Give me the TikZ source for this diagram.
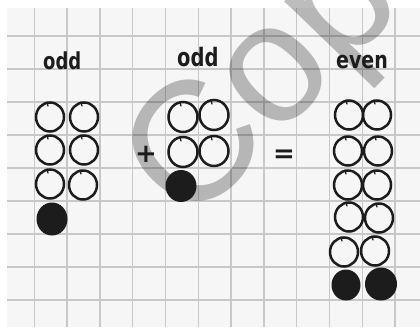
\documentclass[tikz,border=0pt]{standalone}
\usepackage{fontspec}
\setmainfont{DejaVu Sans}
\newfontfamily\wmfont{Liberation Sans}
\definecolor{gridc}{RGB}{200,200,200}
\definecolor{inkc}{RGB}{28,28,28}
\definecolor{paperc}{RGB}{246,246,246}
\begin{document}
\begin{tikzpicture}[x=1pt,y=-1pt,
  gridline/.style={draw=gridc, line width=1.3pt},
  ring/.style={draw=inkc, line width=2.5pt},
  dot/.style={fill=inkc},
  pentick/.style={draw=inkc, line width=1.3pt, line cap=round},
  hand/.style={text=inkc, inner sep=0pt},
  watermark/.style={text=black, text opacity=0.26, inner sep=0pt, font=\wmfont\fontsize{170}{170}\selectfont}
]
\useasboundingbox (0,0) rectangle (420,327);
\clip (0,0) rectangle (420,327);
\fill[white] (0,0) rectangle (420,327);
\fill[paperc] (7,8) rectangle (420,327);
% grid
\foreach \i in {0,...,11} \draw[gridline] ({34.3+32.8*\i},8) -- ({34.3+32.8*\i},327);
\foreach \i in {0,...,8} \draw[gridline] (7,{36+33*\i}) -- (420,{36+33*\i});
% watermark
\node[watermark, rotate=46, anchor=base west] (wm) at (190,229) {Copy};
% labels
\node[hand, anchor=base west, yscale=1.3, font=\bfseries\fontsize{18}{18}\selectfont] (odd1) at (43,69) {odd};
\node[hand, anchor=base west, yscale=1.3, font=\bfseries\fontsize{19.5}{19.5}\selectfont] (odd2) at (177,66) {odd};
\node[hand, anchor=base west, yscale=1.25, font=\bfseries\fontsize{19}{19}\selectfont] (even) at (336,68) {even};
\node[hand, font=\bfseries\fontsize{26}{26}\selectfont] (plus) at (146,154) {+};
\node[hand, font=\bfseries\fontsize{26}{26}\selectfont] (eq) at (284,156) {=};
% column 1
\foreach \cx/\cy in {50/117,84/117,50/150,84/150,50/184,83/185}
  {\draw[ring] (\cx,\cy) ellipse[x radius=14pt, y radius=14.5pt];
   \draw[pentick] (\cx-3,\cy-15) -- (\cx-2,\cy-11);}
\fill[dot] (52,219) ellipse[x radius=15.5pt, y radius=16.5pt];
% column 2
\foreach \cx/\cy in {183/117,214/115,183/152,214/151}
  {\draw[ring] (\cx,\cy) ellipse[x radius=14.5pt, y radius=15pt];
   \draw[pentick] (\cx-3,\cy-15) -- (\cx-2,\cy-11);}
\fill[dot] (181,186) ellipse[x radius=15.5pt, y radius=16pt];
% column 3
\foreach \cx/\cy in {349/115,377/115,348/151,378/151,348/185,377/185,349/217,379/218,344/252,375/251}
  {\draw[ring] (\cx,\cy) ellipse[x radius=14pt, y radius=14.5pt];
   \draw[pentick] (\cx-3,\cy-15) -- (\cx-2,\cy-11);}
\fill[dot] (346,285) ellipse[x radius=14.5pt, y radius=15.5pt];
\fill[dot] (381,284) ellipse[x radius=16pt, y radius=16.5pt];
\end{tikzpicture}
\end{document}
